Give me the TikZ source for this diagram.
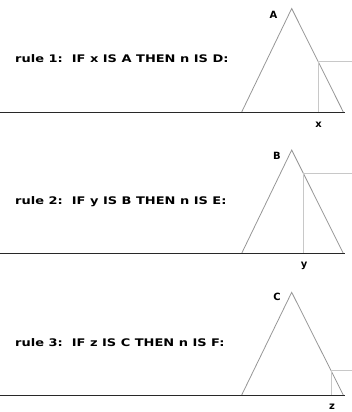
\documentclass[tikz,border=0pt]{standalone}
\usepackage{graphicx}
\usepackage{fontspec}
\setmainfont{DejaVu Sans}
\newcommand{\rulewide}[1]{\scalebox{1.24}[1]{#1}}
\tikzset{
  tri/.style={draw={rgb,255:red,150;green,150;blue,150}, line width=0.8bp},
  cut/.style={draw={rgb,255:red,200;green,200;blue,200}, line width=0.8bp},
  base/.style={draw={rgb,255:red,40;green,40;blue,40}, line width=0.9bp},
  rule/.style={font=\bfseries\fontsize{10.5}{12}\selectfont, anchor=base west, inner sep=0pt},
  lab/.style={font=\bfseries\fontsize{10}{11}\selectfont, inner sep=0pt}
}
\begin{document}
\begin{tikzpicture}[x=1bp,y=-1bp]
\useasboundingbox (0,0) rectangle (352,412);
% panel 1
\node[rule] (r1) at (15,62.5) {\rulewide{rule 1:\ \ IF x IS A THEN n IS D:}};
\coordinate (l1) at (0,112); \coordinate (e1) at (345,112);
\coordinate (a1) at (241.7,112); \coordinate (p1) at (291.7,8.5); \coordinate (b1) at (343.3,112);
\coordinate (v1) at (318.3,112); \coordinate (t1) at (318.3,61.7); \coordinate (h1) at (352,61.7);
\draw[tri] (a1) -- (p1) -- (b1);
\draw[cut] (v1) -- (t1) -- (h1);
\draw[base] (l1) -- (e1);
\node[lab] (A) at (273.5,15) {A};
\node[lab] (x) at (318.5,124.5) {x};
% panel 2
\node[rule] (r2) at (15,204.5) {\rulewide{rule 2:\ \ IF y IS B THEN n IS E:}};
\coordinate (l2) at (0,253.3); \coordinate (e2) at (345,253.3);
\coordinate (a2) at (241.7,253.3); \coordinate (p2) at (291.7,150); \coordinate (b2) at (343.3,253.3);
\coordinate (v2) at (303.3,253.3); \coordinate (t2) at (303.3,173.3); \coordinate (h2) at (352,173.3);
\draw[tri] (a2) -- (p2) -- (b2);
\draw[cut] (v2) -- (t2) -- (h2);
\draw[base] (l2) -- (e2);
\node[lab] (B) at (277,155.5) {B};
\node[lab] (y) at (304,266) {y};
% panel 3
\node[rule] (r3) at (15,346.5) {\rulewide{rule 3:\ \ IF z IS C THEN n IS F:}};
\coordinate (l3) at (0,395); \coordinate (e3) at (345,395);
\coordinate (a3) at (241.7,395); \coordinate (p3) at (291.7,292.3); \coordinate (b3) at (343.3,395);
\coordinate (v3) at (331.7,395); \coordinate (t3) at (331.7,370); \coordinate (h3) at (352,370);
\draw[tri] (a3) -- (p3) -- (b3);
\draw[cut] (v3) -- (t3) -- (h3);
\draw[base] (l3) -- (e3);
\node[lab] (C) at (277,297) {C};
\node[lab] (z) at (332,406.5) {z};
\end{tikzpicture}
\end{document}
